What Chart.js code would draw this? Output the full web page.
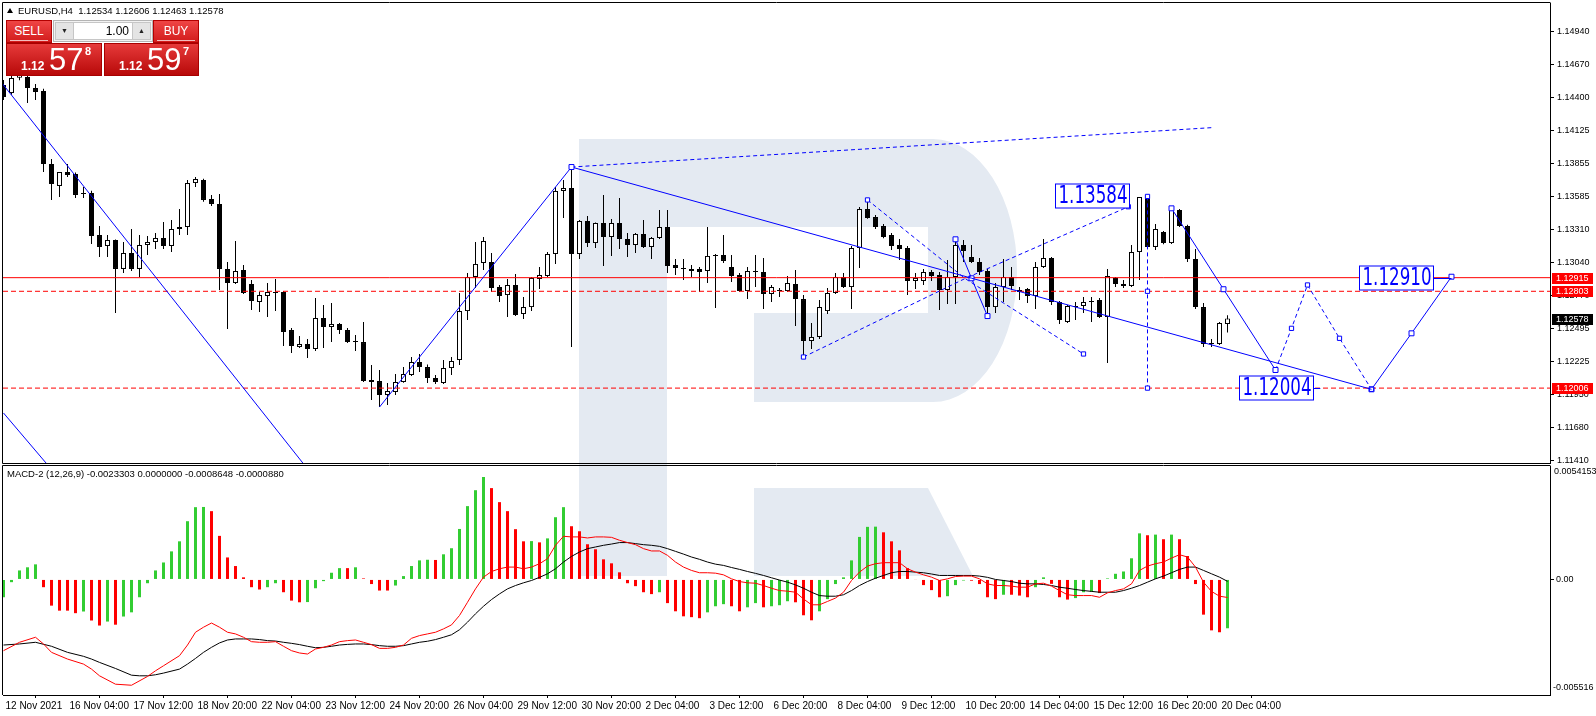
<!DOCTYPE html>
<html>
<head>
<meta charset="utf-8">
<title>EURUSD H4</title>
<script src="https://cdn.jsdelivr.net/npm/chart.js@4.4.1/dist/chart.umd.min.js"></script>
<style>
html, body { margin: 0; padding: 0; background: #fff; }
body { width: 1596px; height: 716px; position: relative; overflow: hidden; font-family: "Liberation Sans", Arial, sans-serif; }
canvas { position: absolute; left: 0; }
#logo { top: 0; }
#priceChart { top: 0; }
#macdChart { top: 464px; }
#symbolLine { position: absolute; left: 7px; top: 4px; font-size: 9.5px; line-height: 13px; color: #000; white-space: pre; }
#symbolLine .tri { display: inline-block; width: 0; height: 0; border-left: 3px solid transparent; border-right: 3px solid transparent; border-bottom: 5px solid #000; margin-right: 5px; vertical-align: 1px; }
#macdTitle { position: absolute; left: 7px; top: 468px; font-size: 9.5px; line-height: 12px; color: #000; white-space: pre; }
.head { position: absolute; top: 20px; width: 46px; height: 23px; box-sizing: border-box; background: linear-gradient(#ef4545, #d21c1c); border: 1px solid #b30000; color: #fff; font: 12px "Liberation Sans Narrow", "Liberation Sans", sans-serif; text-align: center; line-height: 20px; }
.head::after { content: ""; position: absolute; left: 3px; right: 3px; bottom: 1px; height: 1px; background: rgba(255,255,255,0.7); }
.sell { left: 6px; }
.buy { left: 153px; }
.lotbox { position: absolute; left: 53px; top: 20px; width: 100px; height: 22px; box-sizing: border-box; border: 1px solid #b4b4b4; background: #f2f2f2; }
.lotbox div { position: absolute; top: 1px; height: 18px; box-sizing: border-box; }
.arrow { width: 19px; background: #e4e4e4; border: 1px solid #c6c6c6; font-size: 7px; line-height: 16px; text-align: center; color: #222; }
.arrow.dn { left: 1px; }
.arrow.up { right: 1px; }
.lot { left: 20px; width: 58px; background: #fff; border-top: 1px solid #c6c6c6; border-bottom: 1px solid #c6c6c6; font-size: 12px; line-height: 16px; text-align: right; padding-right: 3px; color: #000; }
.quote { position: absolute; top: 43px; height: 33px; box-sizing: border-box; background: linear-gradient(#e63a3a, #b80909); border: 1px solid #a80000; color: #fff; }
.sellq { left: 6px; width: 96px; }
.buyq { left: 104px; width: 95px; }
.quote span { position: absolute; white-space: pre; }
.q-lead { left: 14px; top: 16px; font-size: 12px; font-weight: bold; line-height: 12px; }
.q-pips { left: 42px; top: 0px; font-size: 31px; line-height: 31px; }
.q-point { left: 78px; top: 2px; font-size: 11px; font-weight: bold; line-height: 11px; }
</style>
</head>
<body>
<canvas id="logo" width="1596" height="716"></canvas>
<canvas id="priceChart" width="1596" height="464"></canvas>
<canvas id="macdChart" width="1596" height="252"></canvas>

<div id="symbolLine"><span class="tri"></span>EURUSD,H4  1.12534 1.12606 1.12463 1.12578</div>
<div id="macdTitle">MACD-2 (12,26,9) -0.0023303 0.0000000 -0.0008648 -0.0000880</div>

<div class="head sell">SELL</div>
<div class="lotbox"><div class="arrow dn">&#9660;</div><div class="lot">1.00</div><div class="arrow up">&#9650;</div></div>
<div class="head buy">BUY</div>
<div class="quote sellq"><span class="q-lead">1.12</span><span class="q-pips">57</span><span class="q-point">8</span></div>
<div class="quote buyq"><span class="q-lead">1.12</span><span class="q-pips">59</span><span class="q-point">7</span></div>

<script>
// EURUSD H4 bars, 12 Nov 2021 20:00 .. 20 Dec 2021 08:00
const opens = [
  1.14501, 1.14435, 1.14560, 1.14567, 1.14476, 1.14452, 1.13851, 1.13670, 1.13785, 1.13768,
  1.13612, 1.13612, 1.13266, 1.13176, 1.13225, 1.12987, 1.13118, 1.12987, 1.13184, 1.13209,
  1.13242, 1.13176, 1.13316, 1.13332, 1.13694, 1.13719, 1.13563, 1.13522, 1.12987, 1.12871,
  1.12979, 1.12863, 1.12715, 1.12764, 1.12797, 1.12797, 1.12484, 1.12344, 1.12369, 1.12328,
  1.12583, 1.12509, 1.12534, 1.12484, 1.12394, 1.12385, 1.12073, 1.12064, 1.11949, 1.11974,
  1.12056, 1.12114, 1.12221, 1.12179, 1.12089, 1.12048, 1.12171, 1.12237, 1.12640, 1.12921,
  1.13036, 1.13044, 1.12838, 1.12772, 1.12855, 1.12616, 1.12673, 1.12904, 1.12929, 1.13110,
  1.13629, 1.13653, 1.13110, 1.13382, 1.13200, 1.13365, 1.13250, 1.13365, 1.13234, 1.13184,
  1.13275, 1.13168, 1.13242, 1.13332, 1.13020, 1.12995, 1.12987, 1.12987, 1.12970, 1.13102,
  1.13102, 1.13003, 1.12937, 1.12805, 1.12970, 1.12962, 1.12781, 1.12814, 1.12805, 1.12863,
  1.12739, 1.12394, 1.12427, 1.12640, 1.12789, 1.12921, 1.12838, 1.13159, 1.13480, 1.13414,
  1.13340, 1.13266, 1.13184, 1.13159, 1.12888, 1.12888, 1.12962, 1.12937, 1.12814, 1.12921,
  1.13184, 1.13085, 1.13044, 1.12970, 1.12673, 1.12838, 1.12921, 1.12814, 1.12822, 1.12764,
  1.13003, 1.13077, 1.12715, 1.12550, 1.12673, 1.12682, 1.12715, 1.12731, 1.12591, 1.12913,
  1.12863, 1.12847, 1.13126, 1.13571, 1.13168, 1.13291, 1.13200, 1.13472, 1.13340, 1.13069,
  1.12673, 1.12377, 1.12369, 1.12534
];
const highs = [
  1.14542, 1.14600, 1.14650, 1.14620, 1.14510, 1.14470, 1.13892, 1.13785, 1.13851, 1.13780,
  1.13661, 1.13630, 1.13340, 1.13266, 1.13230, 1.13209, 1.13316, 1.13266, 1.13258, 1.13283,
  1.13374, 1.13390, 1.13480, 1.13719, 1.13744, 1.13730, 1.13596, 1.13604, 1.13044, 1.13217,
  1.13020, 1.12896, 1.12797, 1.12871, 1.12904, 1.12805, 1.12500, 1.12435, 1.12410, 1.12748,
  1.12690, 1.12706, 1.12542, 1.12500, 1.12443, 1.12550, 1.12196, 1.12155, 1.12048, 1.12122,
  1.12179, 1.12262, 1.12287, 1.12200, 1.12114, 1.12237, 1.12262, 1.12789, 1.12954, 1.13209,
  1.13250, 1.13118, 1.12855, 1.12904, 1.12946, 1.12756, 1.12921, 1.13003, 1.13126, 1.13661,
  1.13719, 1.13826, 1.13390, 1.13423, 1.13370, 1.13596, 1.13398, 1.13571, 1.13283, 1.13283,
  1.13390, 1.13250, 1.13472, 1.13472, 1.13069, 1.13069, 1.13020, 1.13003, 1.13332, 1.13110,
  1.13266, 1.13102, 1.12954, 1.13003, 1.13102, 1.13077, 1.12855, 1.12830, 1.12929, 1.12979,
  1.12772, 1.12542, 1.12731, 1.12830, 1.12954, 1.12954, 1.13176, 1.13497, 1.13555, 1.13431,
  1.13357, 1.13283, 1.13234, 1.13176, 1.12954, 1.12987, 1.12979, 1.12962, 1.13061, 1.13242,
  1.13225, 1.13184, 1.13077, 1.12987, 1.12871, 1.13069, 1.13003, 1.12838, 1.12830, 1.13044,
  1.13234, 1.13085, 1.12723, 1.12690, 1.12715, 1.12756, 1.12756, 1.12748, 1.12987, 1.12921,
  1.12896, 1.13184, 1.13580, 1.13584, 1.13357, 1.13300, 1.13497, 1.13480, 1.13350, 1.13151,
  1.12706, 1.12410, 1.12550, 1.12606
];
const lows = [
  1.14378, 1.14420, 1.14540, 1.14353, 1.14378, 1.13785, 1.13555, 1.13579, 1.13744, 1.13571,
  1.13571, 1.13192, 1.13085, 1.13085, 1.12624, 1.12954, 1.12970, 1.12921, 1.13102, 1.13151,
  1.13151, 1.13126, 1.13266, 1.13266, 1.13661, 1.13540, 1.13505, 1.12814, 1.12492, 1.12863,
  1.12780, 1.12649, 1.12632, 1.12591, 1.12640, 1.12353, 1.12295, 1.12336, 1.12254, 1.12311,
  1.12336, 1.12385, 1.12451, 1.12377, 1.12311, 1.12056, 1.11908, 1.11850, 1.11867, 1.11949,
  1.12050, 1.12105, 1.12138, 1.12048, 1.12040, 1.12040, 1.12114, 1.12196, 1.12566, 1.12830,
  1.12979, 1.12797, 1.12715, 1.12591, 1.12600, 1.12575, 1.12640, 1.12822, 1.12920, 1.13028,
  1.13406, 1.12344, 1.13069, 1.13168, 1.13159, 1.13011, 1.13094, 1.13151, 1.13085, 1.13118,
  1.13159, 1.13069, 1.13234, 1.12954, 1.12937, 1.12896, 1.12921, 1.12797, 1.12871, 1.12665,
  1.13036, 1.12880, 1.12797, 1.12739, 1.12838, 1.12657, 1.12715, 1.12756, 1.12797, 1.12517,
  1.12278, 1.12328, 1.12410, 1.12616, 1.12780, 1.12830, 1.12657, 1.12995, 1.13400, 1.13316,
  1.13240, 1.13143, 1.13061, 1.12772, 1.12822, 1.12855, 1.12888, 1.12649, 1.12698, 1.12698,
  1.13044, 1.13036, 1.12937, 1.12624, 1.12624, 1.12715, 1.12814, 1.12731, 1.12706, 1.12657,
  1.12995, 1.12690, 1.12534, 1.12542, 1.12566, 1.12624, 1.12550, 1.12583, 1.12212, 1.12838,
  1.12830, 1.12838, 1.12896, 1.13160, 1.13143, 1.13190, 1.13192, 1.13332, 1.13044, 1.12657,
  1.12344, 1.12344, 1.12360, 1.12463
];
const closes = [
  1.14402, 1.14559, 1.14600, 1.14476, 1.14444, 1.13851, 1.13686, 1.13785, 1.13760, 1.13596,
  1.13604, 1.13258, 1.13168, 1.13225, 1.12987, 1.13118, 1.12987, 1.13184, 1.13209, 1.13242,
  1.13176, 1.13316, 1.13332, 1.13694, 1.13727, 1.13555, 1.13522, 1.12987, 1.12871, 1.12970,
  1.12789, 1.12723, 1.12772, 1.12797, 1.12789, 1.12468, 1.12353, 1.12369, 1.12328, 1.12583,
  1.12509, 1.12534, 1.12484, 1.12385, 1.12385, 1.12064, 1.12056, 1.11949, 1.11982, 1.12056,
  1.12122, 1.12221, 1.12179, 1.12089, 1.12056, 1.12171, 1.12229, 1.12640, 1.12921, 1.13028,
  1.13217, 1.12830, 1.12764, 1.12855, 1.12608, 1.12673, 1.12913, 1.12937, 1.13110, 1.13629,
  1.13653, 1.13110, 1.13382, 1.13200, 1.13365, 1.13250, 1.13365, 1.13234, 1.13184, 1.13275,
  1.13168, 1.13242, 1.13332, 1.13011, 1.12995, 1.12987, 1.12970, 1.12962, 1.13094, 1.13094,
  1.13053, 1.12929, 1.12805, 1.12970, 1.12962, 1.12781, 1.12838, 1.12805, 1.12871, 1.12739,
  1.12394, 1.12427, 1.12673, 1.12789, 1.12921, 1.12838, 1.13159, 1.13480, 1.13406, 1.13332,
  1.13250, 1.13176, 1.13151, 1.12888, 1.12913, 1.12962, 1.12929, 1.12814, 1.12921, 1.13184,
  1.13135, 1.13044, 1.12962, 1.12673, 1.12838, 1.12921, 1.12847, 1.12797, 1.12764, 1.13003,
  1.13077, 1.12715, 1.12566, 1.12682, 1.12682, 1.12715, 1.12723, 1.12591, 1.12929, 1.12863,
  1.12847, 1.13126, 1.13579, 1.13168, 1.13316, 1.13200, 1.13480, 1.13340, 1.13069, 1.12673,
  1.12369, 1.12369, 1.12542, 1.12578
];

// time axis: one label every 8 bars, starting at the first bar
const barsPerLabel = 8;
const timeLabels = [
  '12 Nov 2021', '16 Nov 04:00', '17 Nov 12:00', '18 Nov 20:00', '22 Nov 04:00',
  '23 Nov 12:00', '24 Nov 20:00', '26 Nov 04:00', '29 Nov 12:00', '30 Nov 20:00',
  '2 Dec 04:00', '3 Dec 12:00', '6 Dec 20:00', '8 Dec 04:00', '9 Dec 12:00',
  '10 Dec 20:00', '14 Dec 04:00', '15 Dec 12:00', '16 Dec 20:00', '20 Dec 04:00'
];

// price axis
const priceTicks = [1.14940, 1.14670, 1.14400, 1.14125, 1.13855, 1.13585, 1.13310,
                    1.13040, 1.12770, 1.12495, 1.12225, 1.11950, 1.11680, 1.11410];
const priceRange = [1.113894, 1.151763];

// horizontal levels
const levelSolid = 1.12915;
const levelsDashed = [1.12803, 1.12006];
const lastPrice = 1.12578;

// drawn analysis objects, [bar index, price]
const steepLineA   = [[-1, 1.14584], [38, 1.11341]];
const steepLineB   = [[0, 1.11801], [7, 1.11259]];
const rallyLine    = [[47, 1.11850], [71, 1.13826]];
const channelTop   = [[71, 1.13826], [151, 1.14150]];
const mainTrend    = [[71, 1.13826], [171, 1.11996]];
const wedgeUpper   = [[108, 1.13555], [120.2, 1.12908], [135, 1.12287]];
const wedgeLower   = [[100, 1.12262], [120.2, 1.12908], [140.6, 1.13499]];
const zigzag       = [[119, 1.13231], [121, 1.12910], [123, 1.12599]];
const highDrop     = [[143, 1.13584], [143, 1.12803], [143, 1.12006]];
const forecastA    = [[146, 1.13486], [152.5, 1.12820], [159, 1.12155]];
const forecastB    = [[159, 1.12155], [161, 1.12498], [163, 1.12855], [167, 1.12416], [171, 1.11996]];
const forecastC    = [[171, 1.11996], [176, 1.12457], [181, 1.12923]];

// price notes: text, right edge bar index, price, tail end bar index
const noteTexts  = ['1.13584', '1.12004', '1.12910'];
const noteBars   = [140.7, 163.7, 178.7];
const notePrices = [1.13584, 1.12004, 1.12910];
const noteTails  = [140.7, 164.6, 181];

// MACD-2 (12,26,9)
const macdHist = [
  -0.00085, -0.00013, 0.00043, 0.00058, 0.00072, -0.00037, -0.00125, -0.00149, -0.00149, -0.00161,
  -0.00153, -0.00196, -0.00220, -0.00201, -0.00216, -0.00177, -0.00157, -0.00085, -0.00018, 0.00043,
  0.00081, 0.00134, 0.00182, 0.00278, 0.00345, 0.00346, 0.00326, 0.00208, 0.00105, 0.00064,
  0.00010, -0.00037, -0.00048, -0.00037, -0.00018, -0.00061, -0.00101, -0.00109, -0.00108, -0.00042,
  -0.00008, 0.00032, 0.00054, 0.00054, 0.00058, 0.00005, -0.00022, -0.00053, -0.00053, -0.00029,
  0.00016, 0.00064, 0.00091, 0.00094, 0.00093, 0.00120, 0.00149, 0.00241, 0.00350, 0.00426,
  0.00489, 0.00436, 0.00369, 0.00326, 0.00240, 0.00182, 0.00183, 0.00177, 0.00196, 0.00297,
  0.00345, 0.00254, 0.00230, 0.00168, 0.00144, 0.00096, 0.00077, 0.00034, -0.00018, -0.00032,
  -0.00061, -0.00070, -0.00061, -0.00113, -0.00152, -0.00176, -0.00180, -0.00185, -0.00157, -0.00128,
  -0.00118, -0.00128, -0.00152, -0.00133, -0.00113, -0.00133, -0.00128, -0.00123, -0.00104, -0.00109,
  -0.00171, -0.00195, -0.00152, -0.00094, -0.00022, 0.00010, 0.00091, 0.00203, 0.00251, 0.00252,
  0.00225, 0.00182, 0.00139, 0.00054, -0.00002, -0.00027, -0.00051, -0.00085, -0.00080, -0.00027,
  -0.00005, -0.00006, -0.00022, -0.00085, -0.00094, -0.00073, -0.00073, -0.00077, -0.00085, -0.00037,
  0.00010, -0.00021, -0.00085, -0.00096, -0.00089, -0.00061, -0.00059, -0.00065, 0.00005, 0.00027,
  0.00038, 0.00101, 0.00220, 0.00211, 0.00214, 0.00192, 0.00214, 0.00192, 0.00112, -0.00022,
  -0.00168, -0.00243, -0.00252, -0.00233
];
const macdMain = [
  -0.00340, null, -0.00300, null, -0.00276, -0.00308, -0.00348, null, -0.00380, null,
  -0.00404, -0.00428, -0.00460, null, -0.00500, null, -0.00505, null, -0.00463, -0.00436,
  -0.00412, null, -0.00364, -0.00313, -0.00252, -0.00228, -0.00208, -0.00228, -0.00252, -0.00260,
  -0.00276, -0.00297, -0.00300, -0.00300, -0.00297, -0.00319, -0.00340, -0.00351, -0.00356, -0.00332,
  -0.00324, -0.00313, -0.00297, -0.00292, -0.00289, -0.00300, -0.00311, -0.00329, -0.00329, -0.00324,
  -0.00313, -0.00281, -0.00268, -0.00260, -0.00252, -0.00236, -0.00217, -0.00172, -0.00109, -0.00045,
  0.00011, 0.00038, 0.00051, 0.00059, 0.00059, 0.00051, 0.00059, 0.00075, 0.00099, 0.00163,
  0.00206, 0.00203, 0.00203, 0.00198, 0.00203, 0.00203, 0.00201, 0.00187, 0.00176, 0.00166,
  0.00147, 0.00136, 0.00136, 0.00115, 0.00083, 0.00059, 0.00043, 0.00032, 0.00032, 0.00030,
  0.00022, 0.00003, -0.00010, -0.00016, -0.00018, -0.00029, -0.00042, -0.00053, -0.00056, -0.00061,
  -0.00093, -0.00121, -0.00121, -0.00105, -0.00089, -0.00061, -0.00005, 0.00035, 0.00064, 0.00075,
  0.00080, 0.00080, 0.00080, 0.00051, 0.00035, 0.00022, 0.00011, -0.00005, 0.00003, 0.00014,
  0.00016, 0.00016, 0.00003, -0.00021, -0.00029, -0.00029, -0.00032, -0.00037, -0.00037, -0.00021,
  -0.00018, -0.00032, -0.00053, -0.00073, -0.00077, -0.00077, -0.00077, -0.00085, -0.00064, -0.00053,
  -0.00045, -0.00021, 0.00043, 0.00064, 0.00075, 0.00083, 0.00102, 0.00118, 0.00107, 0.00059,
  -0.00013, -0.00057, -0.00080, -0.00086
];
const macdSignal = [
  -0.00313, null, -0.00308, null, -0.00300, null, -0.00319, null, -0.00348, null,
  -0.00367, -0.00380, -0.00396, null, -0.00425, null, -0.00457, -0.00460, -0.00460, -0.00455,
  -0.00447, null, -0.00428, -0.00404, -0.00377, -0.00348, -0.00324, -0.00303, -0.00289, -0.00284,
  -0.00284, -0.00284, -0.00287, -0.00292, -0.00294, -0.00300, -0.00305, -0.00311, -0.00319, -0.00326,
  -0.00324, -0.00319, -0.00313, -0.00310, -0.00308, -0.00308, -0.00311, -0.00316, -0.00319, -0.00319,
  -0.00316, -0.00308, -0.00300, -0.00295, -0.00287, -0.00276, -0.00264, -0.00240, -0.00204, -0.00164,
  -0.00128, -0.00096, -0.00069, -0.00045, -0.00029, -0.00016, -0.00005, 0.00010, 0.00027, 0.00051,
  0.00083, 0.00110, 0.00131, 0.00147, 0.00155, 0.00163, 0.00169, 0.00176, 0.00176, 0.00171,
  0.00166, 0.00163, 0.00158, 0.00147, 0.00134, 0.00121, 0.00107, 0.00096, 0.00083, 0.00073,
  0.00067, 0.00057, 0.00048, 0.00038, 0.00029, 0.00019, 0.00008, -0.00003, -0.00013, -0.00026,
  -0.00042, -0.00061, -0.00077, -0.00080, -0.00080, -0.00073, -0.00053, -0.00029, -0.00010, 0.00006,
  0.00019, 0.00032, 0.00038, 0.00038, 0.00035, 0.00032, 0.00026, 0.00019, 0.00019, 0.00019,
  0.00019, 0.00019, 0.00016, 0.00010, 0.00000, -0.00005, -0.00010, -0.00018, -0.00021, -0.00021,
  -0.00024, -0.00029, -0.00037, -0.00042, -0.00048, -0.00053, -0.00057, -0.00061, -0.00061, -0.00061,
  -0.00053, -0.00042, -0.00029, -0.00013, 0.00003, 0.00016, 0.00032, 0.00048, 0.00059, 0.00059,
  0.00043, 0.00027, 0.00011, -0.00009
];
const macdRange = [-0.005516, 0.0054153];
const macdRangeLabels = ['-0.005516', '0.0054153'];

// ---------------------------------------------------------------
const FONT = '"Liberation Sans", Arial, sans-serif';
const BLUE = '#0000ff';
const RED = '#ff0000';
const xMin = -0.0625, xMax = 193.3125;   // 8 px per bar, bar 0 centred on x = 3.5
const bars = opens.map((_, i) => i);

Chart.defaults.font.family = FONT;
Chart.defaults.color = '#000';

// background watermark
function drawLogo() {
    const c = document.getElementById('logo').getContext('2d');
    c.fillStyle = '#e4eaf2';
    c.fillRect(579, 139, 88, 437);
    c.beginPath();
    c.moveTo(667, 139);
    c.lineTo(933, 139);
    c.ellipse(933, 270.5, 84, 131.5, 0, -Math.PI / 2, Math.PI / 2);
    c.lineTo(754, 402);
    c.lineTo(754, 313);
    c.lineTo(928, 313);
    c.lineTo(928, 227);
    c.lineTo(667, 227);
    c.closePath();
    c.fill();
    c.beginPath();
    c.moveTo(754, 488);
    c.lineTo(928, 488);
    c.lineTo(973, 576);
    c.lineTo(754, 576);
    c.closePath();
    c.fill();
}

function timeAxis(show) {
    return {
        type: 'linear', min: xMin, max: xMax, bounds: 'data', offset: false, display: show,
        grid: { display: show, drawOnChartArea: false, drawTicks: true, tickLength: 3, color: '#000' },
        border: { display: show, color: '#000' },
        ticks: {
            autoSkip: false, maxRotation: 0, minRotation: 0, align: 'start', labelOffset: 2, padding: 2,
            font: { size: 10 }, color: '#000',
            callback: (v, k) => timeLabels[k]
        },
        afterBuildTicks: s => { s.ticks = timeLabels.map((_, k) => ({ value: k * barsPerLabel })); },
        afterFit: s => {
            s.height = show ? 21 : 0;
            s.paddingLeft = 0;
            s.paddingRight = 0;
        }
    };
}

function blueLine(points, extra) {
    return Object.assign({
        type: 'line',
        data: points.map(([i, p]) => ({ x: i, y: p })),
        borderColor: BLUE, borderWidth: 1, tension: 0,
        pointRadius: 0, pointStyle: 'rect', pointBackgroundColor: '#fff',
        pointBorderColor: BLUE, pointBorderWidth: 1,
        order: 1
    }, extra || {});
}

function levelLine(price, dashed) {
    return {
        type: 'line',
        data: [{ x: xMin, y: price }, { x: xMax, y: price }],
        borderColor: RED, borderWidth: 1, borderDash: dashed ? [5, 3] : [],
        pointRadius: 0, order: 5
    };
}

// frame, axis price boxes and note boxes on the price panel
const pricePanelDecor = {
    id: 'pricePanelDecor',
    afterDatasetsDraw(chart) {
        const { ctx, scales: { x, y } } = chart;
        ctx.save();
        noteTexts.forEach((t, k) => {
            const right = Math.round(x.getPixelForValue(noteBars[k])) + 0.5;
            const cy = Math.round(y.getPixelForValue(notePrices[k]));
            const w = 74, h = 24;
            const tailX = x.getPixelForValue(noteTails[k]);
            ctx.strokeStyle = BLUE;
            ctx.lineWidth = 1;
            if (tailX > right) {
                ctx.beginPath();
                ctx.moveTo(right, cy + 0.5);
                ctx.lineTo(tailX, cy + 0.5);
                ctx.stroke();
            }
            ctx.fillStyle = '#fff';
            ctx.fillRect(right - w, cy - h / 2, w, h);
            ctx.strokeRect(right - w, cy - h / 2, w, h);
            ctx.font = '24px "Liberation Sans Narrow", "DejaVu Sans Condensed", ' + FONT;
            const tw = ctx.measureText(t).width;
            const target = w - 5;
            const sx = Math.min(1, target / tw);
            ctx.fillStyle = BLUE;
            ctx.textBaseline = 'middle';
            ctx.textAlign = 'left';
            ctx.save();
            ctx.translate(right - w + 3, cy + 1);
            ctx.scale(sx, 1);
            ctx.fillText(t, 0, 0);
            ctx.restore();
        });
        ctx.restore();
    },
    afterDraw(chart) {
        const { ctx, chartArea: a, scales: { y } } = chart;
        ctx.save();
        ctx.strokeStyle = '#000';
        ctx.lineWidth = 1;
        ctx.beginPath();
        ctx.moveTo(a.left - 0.5, a.bottom + 0.5);
        ctx.lineTo(a.left - 0.5, a.top - 0.5);
        ctx.lineTo(a.right + 0.5, a.top - 0.5);
        ctx.moveTo(a.left - 0.5, a.bottom + 0.5);
        ctx.lineTo(a.right + 0.5, a.bottom + 0.5);
        ctx.stroke();
        const marks = [[levelSolid, RED], [levelsDashed[0], RED], [lastPrice, '#000'], [levelsDashed[1], RED]];
        ctx.font = '9px ' + FONT;
        ctx.textBaseline = 'middle';
        marks.forEach(([p, bg]) => {
            const cy = Math.round(y.getPixelForValue(p));
            ctx.fillStyle = bg;
            ctx.fillRect(a.right + 2, cy - 5, 41, 11);
            ctx.fillStyle = '#fff';
            ctx.fillText(p.toFixed(5), a.right + 6, cy + 0.5);
        });
        ctx.restore();
    }
};

const macdPanelDecor = {
    id: 'macdPanelDecor',
    afterDraw(chart) {
        const { ctx, chartArea: a } = chart;
        ctx.save();
        ctx.strokeStyle = '#000';
        ctx.lineWidth = 1;
        ctx.beginPath();
        ctx.moveTo(a.left - 0.5, a.bottom);
        ctx.lineTo(a.left - 0.5, a.top - 0.5);
        ctx.lineTo(a.right + 0.5, a.top - 0.5);
        ctx.stroke();
        ctx.fillStyle = '#000';
        ctx.font = '9px ' + FONT;
        ctx.textBaseline = 'middle';
        ctx.fillText(macdRangeLabels[1], a.right + 4, a.top + 6);
        ctx.fillText(macdRangeLabels[0], a.right + 3, a.bottom - 7);
        ctx.restore();
    }
};

function initPriceChart() {
    const ctx = document.getElementById('priceChart').getContext('2d');
    const bull = bars.map(i => closes[i] >= opens[i]);
    new Chart(ctx, {
        type: 'bar',
        data: {
            datasets: [
                {
                    type: 'bar', label: 'wick',
                    data: bars.map(i => ({ x: i, y: [lows[i], highs[i]] })),
                    backgroundColor: '#000', borderWidth: 0, barThickness: 1,
                    grouped: false, inflateAmount: 0, order: 10
                },
                {
                    type: 'bar', label: 'body',
                    data: bars.map(i => ({ x: i, y: [opens[i], closes[i]] })),
                    backgroundColor: c => bull[c.dataIndex] ? '#fff' : '#000',
                    borderColor: '#000', borderWidth: 1, borderSkipped: false,
                    barThickness: 5, minBarLength: 1, grouped: false, inflateAmount: 0, order: 9
                },
                levelLine(levelSolid, false),
                levelLine(levelsDashed[0], true),
                levelLine(levelsDashed[1], true),
                blueLine(steepLineA),
                blueLine(steepLineB),
                blueLine(rallyLine, { pointRadius: [0, 3.5] }),
                blueLine(channelTop, { borderDash: [4, 3] }),
                blueLine(mainTrend),
                blueLine(wedgeUpper, { borderDash: [4, 3], pointRadius: [3, 0, 3] }),
                blueLine(wedgeLower, { borderDash: [4, 3], pointRadius: [3, 0, 3] }),
                blueLine(zigzag, { pointRadius: 3.5 }),
                blueLine(highDrop, { borderDash: [4, 3], pointRadius: 3 }),
                blueLine(forecastA, { pointRadius: 3.5 }),
                blueLine(forecastB, { borderDash: [4, 3], pointRadius: 3 }),
                blueLine(forecastC, { pointRadius: 3.5 })
            ]
        },
        options: {
            responsive: false,
            animation: false,
            events: [],
            layout: { autoPadding: false, padding: { left: 3, top: 3, right: 0, bottom: 1 } },
            plugins: { legend: { display: false }, tooltip: { enabled: false } },
            scales: {
                x: timeAxis(false),
                y: {
                    position: 'right', min: priceRange[0], max: priceRange[1], bounds: 'data',
                    grid: { drawOnChartArea: false, drawTicks: true, tickLength: 4, color: '#000' },
                    border: { color: '#000' },
                    ticks: { padding: 3, font: { size: 9 }, color: '#000', callback: v => v.toFixed(5) },
                    afterBuildTicks: s => { s.ticks = priceTicks.map(v => ({ value: v })); },
                    afterFit: s => { s.width = 46; s.paddingTop = 0; s.paddingBottom = 0; }
                }
            }
        },
        plugins: [pricePanelDecor]
    });
}

function initMacdChart() {
    const ctx = document.getElementById('macdChart').getContext('2d');
    new Chart(ctx, {
        type: 'bar',
        data: {
            datasets: [
                {
                    type: 'bar', label: 'histogram',
                    data: bars.map(i => ({ x: i, y: macdHist[i] })),
                    backgroundColor: c => {
                        const i = c.dataIndex;
                        return (i === 0 || macdHist[i] > macdHist[i - 1]) ? '#32cd32' : RED;
                    },
                    borderWidth: 0, barThickness: 3, grouped: false, inflateAmount: 0, order: 3
                },
                {
                    type: 'line', label: 'signal',
                    data: bars.map(i => ({ x: i, y: macdSignal[i] })),
                    borderColor: '#000', borderWidth: 1, pointRadius: 0, spanGaps: true, tension: 0, order: 2
                },
                {
                    type: 'line', label: 'macd',
                    data: bars.map(i => ({ x: i, y: macdMain[i] })),
                    borderColor: RED, borderWidth: 1, pointRadius: 0, spanGaps: true, tension: 0, order: 1
                }
            ]
        },
        options: {
            responsive: false,
            animation: false,
            events: [],
            layout: { autoPadding: false, padding: { left: 3, top: 2, right: 0, bottom: 0 } },
            plugins: { legend: { display: false }, tooltip: { enabled: false } },
            scales: {
                x: timeAxis(true),
                y: {
                    position: 'right', min: macdRange[0], max: macdRange[1], bounds: 'data',
                    grid: { drawOnChartArea: false, drawTicks: true, tickLength: 4, color: '#000' },
                    border: { color: '#000' },
                    ticks: { padding: 2, font: { size: 9 }, color: '#000', callback: () => '0.00' },
                    afterBuildTicks: s => { s.ticks = [{ value: 0 }]; },
                    afterFit: s => { s.width = 46; s.paddingTop = 0; s.paddingBottom = 0; }
                }
            }
        },
        plugins: [macdPanelDecor]
    });
}

document.addEventListener('DOMContentLoaded', function() {
    drawLogo();
    initPriceChart();
    initMacdChart();
});
</script>
</body>
</html>
